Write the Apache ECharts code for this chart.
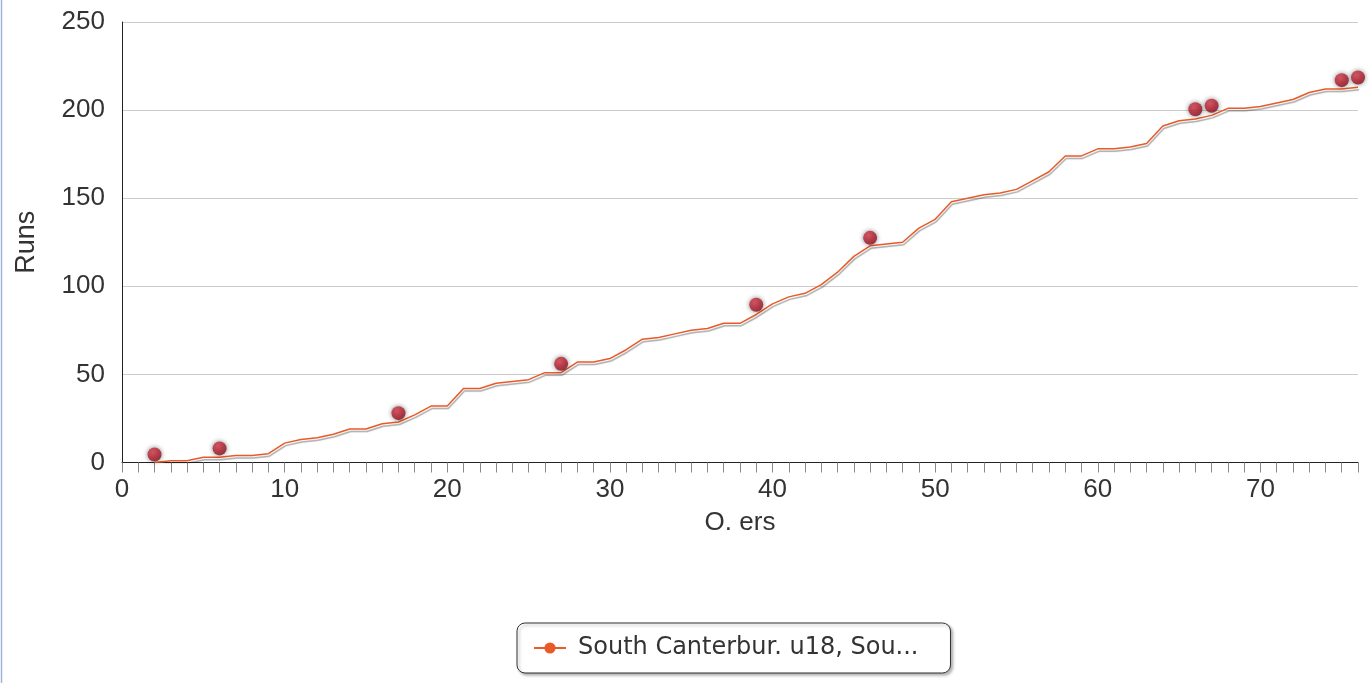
<!DOCTYPE html>
<html>
<head>
<meta charset="utf-8">
<script src="https://cdn.jsdelivr.net/npm/echarts@6/dist/echarts.min.js"></script>
<style>
html,body{margin:0;padding:0;background:#fff;}
#chart{width:1372px;height:683px;}
</style>
</head>
<body>
<div id="chart"></div>
<script>
// ---- data ----
const overs = [2,3,4,5,6,7,8,9,10,11,12,13,14,15,16,17,18,19,20,21,22,23,24,25,26,27,28,29,30,31,32,33,34,35,36,37,38,39,40,41,42,43,44,45,46,47,48,49,50,51,52,53,54,55,56,57,58,59,60,61,62,63,64,65,66,67,68,69,70,71,72,73,74,75,76];
const runs  = [0,1,1,3,3,4,4,5,11,13,14,16,19,19,22,23,27,32,32,42,42,45,46,47,51,51,57,57,59,64,70,71,73,75,76,79,79,84,90,94,96,101,108,117,123,124,125,133,138,148,150,152,153,155,160,165,174,174,178,178,179,181,191,194,195,197,201,201,202,204,206,210,212,212,213];
const wicketOvers = [2,6,17,27,39,46,66,67,75,76];
const wicketRuns  = [4.5,8,28,56,89.5,127.5,200.5,202.5,217,218.5];
const seriesName = 'South Canterbur. u18, Sou...';
const xAxisTitle = 'O. ers';
const yAxisTitle = 'Runs';
const yTicks = [0,50,100,150,200,250];

const lineData = overs.map((o,i)=>[o, runs[i]]);
const wicketData = wicketOvers.map((o,i)=>[o, wicketRuns[i]]);

const chart = echarts.init(document.getElementById('chart'));
const font = '"Liberation Sans", Arial, sans-serif';
chart.setOption({
  animation:false,
  backgroundColor:'#fff',
  graphic:[{type:'line', shape:{x1:1.5,y1:0,x2:1.5,y2:683}, style:{stroke:'#9fb3d6', lineWidth:1.5}}],
  grid:{left:122, right:14, top:22, bottom:220.5, containLabel:false},
  xAxis:{
    type:'value', min:0, max:76, interval:1,
    name:xAxisTitle, nameLocation:'middle', nameGap:47,
    nameTextStyle:{fontFamily:font, fontSize:26, color:'#333'},
    axisLine:{show:true, onZero:false, lineStyle:{color:'#222', width:1}},
    axisTick:{show:true, length:10, lineStyle:{color:'#888'}},
    axisLabel:{fontFamily:font, fontSize:26, color:'#333', margin:14,
      formatter:v=> (v%10===0 ? String(v) : '')},
    splitLine:{show:false}
  },
  yAxis:{
    type:'value', min:yTicks[0], max:yTicks[yTicks.length-1], interval:50,
    name:yAxisTitle, nameLocation:'middle', nameGap:82,
    nameTextStyle:{fontFamily:font, fontSize:27, color:'#333'},
    axisLine:{show:true, lineStyle:{color:'#222', width:1}},
    axisTick:{show:false},
    axisLabel:{fontFamily:font, fontSize:26, color:'#333', margin:17},
    splitLine:{show:true, lineStyle:{color:'#cccccc', width:1}}
  },
  legend:{
    data:[seriesName],
    left:517, top:623,
    padding:[13,32,13,16],
    itemWidth:32, itemHeight:14,
    backgroundColor:'#fff',
    borderColor:'#333', borderWidth:1, borderRadius:8,
    shadowColor:'rgba(0,0,0,0.3)', shadowBlur:3, shadowOffsetX:2, shadowOffsetY:2,
    textStyle:{fontFamily:'"DejaVu Sans", sans-serif', fontSize:24, color:'#333', padding:[0,0,0,7]}
  },
  series:[
    {
      name:seriesName, type:'line', data:lineData,
      symbol:'circle', symbolSize:12, showSymbol:false,
      itemStyle:{color:'#e85a28'},
      lineStyle:{color:'#e85a28', width:1.5,
        shadowColor:'rgba(0,0,0,0.35)', shadowBlur:1, shadowOffsetX:1, shadowOffsetY:2.5},
      z:3
    },
    {
      name:'wickets', type:'scatter', data:wicketData,
      symbol:'circle', symbolSize:14,
      itemStyle:{
        color:{type:'radial', x:0.4, y:0.35, r:0.7,
          colorStops:[{offset:0,color:'#e2475a'},{offset:0.6,color:'#b5202f'},{offset:1,color:'#7a0f1c'}]},
        shadowColor:'rgba(0,0,0,0.6)', shadowBlur:5
      },
      z:5
    }
  ]
});
</script>
</body>
</html>
